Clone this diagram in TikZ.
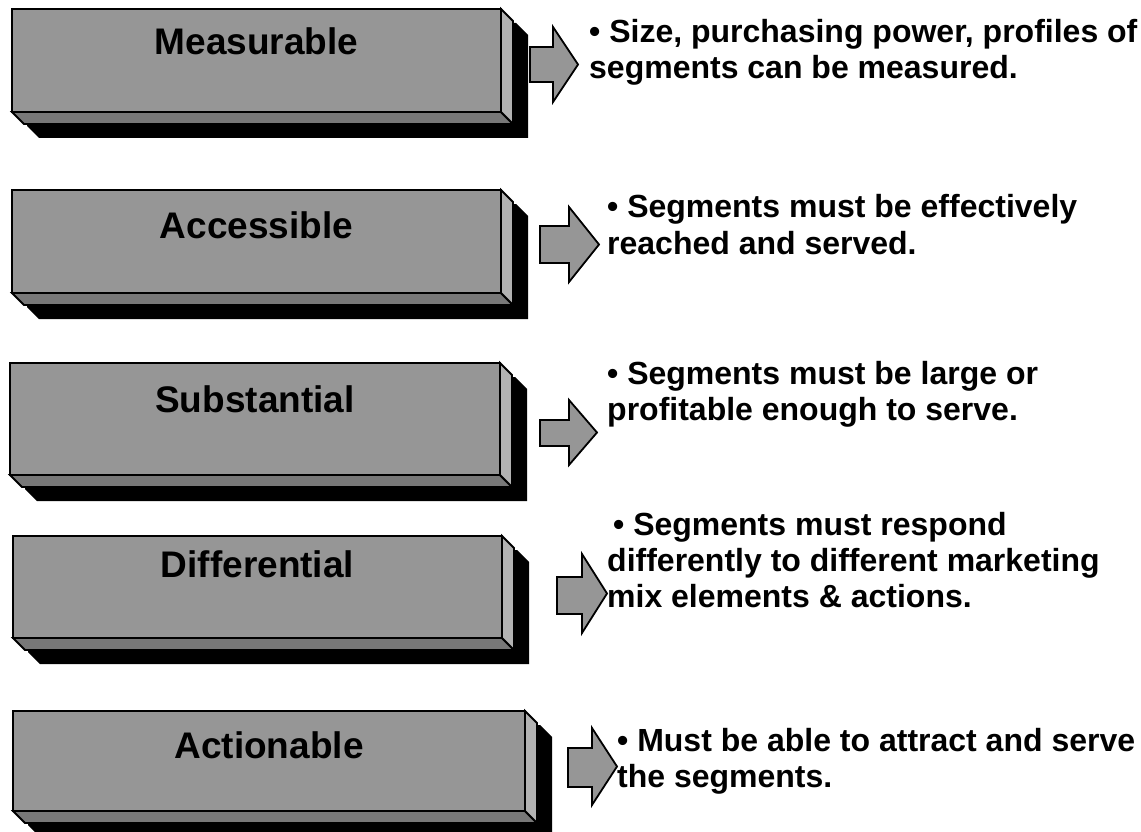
\documentclass[tikz,border=0pt]{standalone}
\usepackage{fontspec}
\setmainfont{Liberation Sans}
\definecolor{facegray}{RGB}{150,150,150}
\definecolor{sidegray}{RGB}{178,178,178}
\definecolor{botgray}{RGB}{120,120,120}
\definecolor{arrowgray}{RGB}{150,150,150}
\tikzset{
  frontface/.style={fill=facegray, draw=black, line width=1.8pt, line join=miter},
  sideface/.style={fill=sidegray, draw=black, line width=1.8pt, line join=miter},
  bottomface/.style={fill=botgray, draw=black, line width=1.8pt, line join=miter},
  dropshadow/.style={fill=black},
  blockarrow/.style={fill=arrowgray, draw=black, line width=1.8pt, line join=miter},
  boxlabel/.style={font=\fontsize{37}{40}\selectfont\bfseries, anchor=base, inner sep=0pt},
  desc/.style={font=\fontsize{32}{36}\selectfont\bfseries, anchor=base west, inner sep=0pt},
}
% x1 y1 x2 y2 name text baseline
\newcommand\segbox[7]{%
  \fill[dropshadow] ({#1+15},{#2+14}) -- ({#3+15},{#2+14}) -- ({#3+27},{#2+26}) -- ({#3+27},{#4+26}) -- ({#1+27},{#4+26}) -- ({#1+15},{#4+14}) -- cycle;
  \draw[bottomface] (#1,#4) -- (#3,#4) -- ({#3+12},{#4+12}) -- ({#1+12},{#4+12}) -- cycle;
  \draw[sideface] (#3,#2) -- ({#3+12},{#2+12}) -- ({#3+12},{#4+12}) -- (#3,#4) -- cycle;
  \draw[frontface] (#1,#2) rectangle (#3,#4);
  \node[boxlabel] (#5) at ({(#1+#3)/2},#7) {#6};
}
% shaft-left headbase tip headtop headbottom shafttop shaftbottom
\newcommand\segarrow[7]{%
  \draw[blockarrow] (#1,#6) -- (#2,#6) -- (#2,#4) -- (#3,{(#4+#5)/2}) -- (#2,#5) -- (#2,#7) -- (#1,#7) -- cycle;
}
\begin{document}
\begin{tikzpicture}[x=1pt,y=-1pt]
\path[use as bounding box] (0,0) rectangle (1141,832);
\fill[white] (0,0) rectangle (1141,832);

\segbox{12}{9}{501}{112}{meas}{Measurable}{55}
\segbox{12}{190}{501}{293}{acc}{Accessible}{238}
\segbox{10}{363}{500}{475}{sub}{Substantial}{412}
\segbox{13}{536}{502}{638}{dif}{Differential}{577}
\segbox{13}{711}{525}{811}{act}{Actionable}{758}

\segarrow{530}{553}{578}{27}{102}{47}{82}
\segarrow{540}{569}{599}{207}{282}{226}{263}
\segarrow{540}{569}{597}{400}{465}{420}{446}
\segarrow{557}{582}{607}{554}{633}{577}{614}
\segarrow{568}{592}{617}{728}{805}{748}{787}

\node[desc] (t1a) at (589,43) {• Size, purchasing power, profiles of};
\node[desc] (t1b) at (589,79) {segments can be measured.};
\node[desc] (t2a) at (607,218) {• Segments must be effectively};
\node[desc] (t2b) at (607,254) {reached and served.};
\node[desc] (t3a) at (607,384) {• Segments must be large or};
\node[desc] (t3b) at (607,420) {profitable enough to serve.};
\node[desc] (t4a) at (613,535) {• Segments must respond};
\node[desc] (t4b) at (607,571) {differently to different marketing};
\node[desc] (t4c) at (607,607) {mix elements \& actions.};
\node[desc] (t5a) at (617,751) {• Must be able to attract and serve};
\node[desc] (t5b) at (617,787) {the segments.};
\end{tikzpicture}
\end{document}
